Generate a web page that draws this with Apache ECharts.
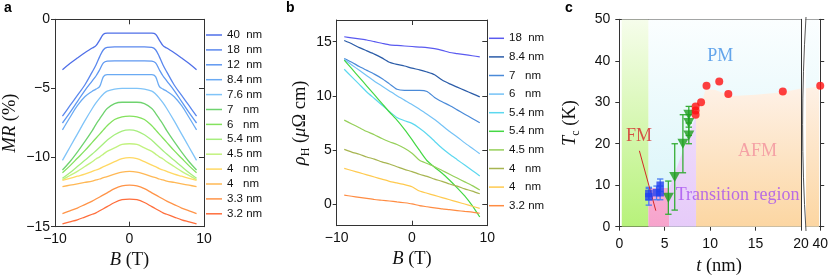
<!DOCTYPE html>
<html><head><meta charset="utf-8">
<script src="https://cdn.jsdelivr.net/npm/echarts@6/dist/echarts.min.js"></script>
<style>html,body{margin:0;padding:0;background:#fff}#c{width:831px;height:276px}</style>
</head><body><div id="c"></div>
<script>
// ---------- Panel a : MR vs B ----------
const aB = [-9,-8,-7,-6,-5,-4.5,-4,-3.5,-3,-2,-1,0,1,2,3,3.5,4,4.5,5,6,7,8,9];
const aLabels = ['40  nm','18  nm','12  nm','8.4 nm','7.6 nm','7   nm','6   nm','5.4 nm','4.5 nm','4   nm','4   nm','3.3 nm','3.2 nm'];
const mr40 = [-3.65,-3.2,-2.8,-2.42,-2.08,-1.9,-1.5,-1.08,-1.0,-1.0,-1.0,-1.0,-1.0,-1.0,-1.0,-1.08,-1.5,-1.9,-2.08,-2.42,-2.8,-3.2,-3.65];
const mr18 = [-7.0,-6.25,-5.5,-4.75,-3.8,-3.3,-2.7,-2.2,-2.03,-2.0,-2.0,-2.0,-2.0,-2.0,-2.03,-2.2,-2.7,-3.3,-3.8,-4.75,-5.5,-6.25,-7.0];
const mr12 = [-7.5,-6.75,-5.95,-5.15,-4.45,-4.1,-3.65,-3.15,-3.02,-3.0,-3.0,-3.0,-3.0,-3.0,-3.02,-3.15,-3.65,-4.1,-4.45,-5.15,-5.95,-6.75,-7.5];
const mr84 = [-8.0,-7.1,-6.25,-5.6,-5.2,-5.05,-4.85,-4.15,-4.0,-4.0,-4.0,-4.0,-4.0,-4.0,-4.0,-4.15,-4.85,-5.05,-5.2,-5.6,-6.25,-7.1,-8.0];
const mr76 = [-10.2,-9.25,-8.3,-7.35,-6.45,-6.05,-5.7,-5.4,-5.2,-5.05,-5.0,-5.0,-5.0,-5.05,-5.2,-5.4,-5.7,-6.05,-6.45,-7.35,-8.3,-9.25,-10.2];
const mr7  = [-10.9,-10.3,-9.6,-8.85,-8.05,-7.6,-7.2,-6.8,-6.45,-6.1,-6.0,-6.0,-6.0,-6.1,-6.45,-6.8,-7.2,-7.6,-8.05,-8.85,-9.6,-10.3,-10.9];
const mr6  = [-11.1,-10.6,-10.05,-9.5,-8.9,-8.6,-8.3,-8.0,-7.7,-7.25,-7.05,-7.0,-7.05,-7.25,-7.7,-8.0,-8.3,-8.6,-8.9,-9.5,-10.05,-10.6,-11.1];
const mr54 = [-11.5,-11.1,-10.65,-10.2,-9.75,-9.5,-9.25,-9.0,-8.75,-8.35,-8.08,-8.0,-8.08,-8.35,-8.75,-9.0,-9.25,-9.5,-9.75,-10.2,-10.65,-11.1,-11.5];
const mr45 = [-11.6,-11.3,-11.0,-10.65,-10.3,-10.1,-9.95,-9.75,-9.55,-9.3,-9.05,-9.0,-9.05,-9.3,-9.55,-9.75,-9.95,-10.1,-10.3,-10.65,-11.0,-11.3,-11.6];
const mr4a = [-11.65,-11.5,-11.35,-11.2,-11.0,-10.9,-10.8,-10.65,-10.55,-10.3,-10.08,-10.0,-10.08,-10.3,-10.55,-10.65,-10.8,-10.9,-11.0,-11.2,-11.35,-11.5,-11.65];
const mr4b = [-12.1,-12.0,-11.9,-11.8,-11.7,-11.62,-11.55,-11.45,-11.38,-11.2,-11.05,-11.0,-11.05,-11.2,-11.38,-11.45,-11.55,-11.62,-11.7,-11.8,-11.9,-12.0,-12.1];
const mr33 = [-14.05,-13.85,-13.65,-13.4,-13.15,-13.0,-12.85,-12.7,-12.55,-12.25,-12.05,-12.0,-12.05,-12.25,-12.55,-12.7,-12.85,-13.0,-13.15,-13.4,-13.65,-13.85,-14.05];
const mr32 = [-14.8,-14.65,-14.5,-14.3,-14.1,-14.0,-13.85,-13.7,-13.55,-13.25,-13.05,-13.0,-13.05,-13.25,-13.55,-13.7,-13.85,-14.0,-14.1,-14.3,-14.5,-14.65,-14.8];
const aSeriesVals = [mr40,mr18,mr12,mr84,mr76,mr7,mr6,mr54,mr45,mr4a,mr4b,mr33,mr32];
const aColors = ['#4f6fe8','#5b88ee','#5f98f1','#6aaaf3','#80c4f8','#6fd36f','#84e25e','#a6ee7e','#c2f27f','#ffd863','#ffb855','#ff9448','#ff6e3c'];

// ---------- Panel b : Hall resistivity vs B ----------
const bB = [-9,-8,-7,-6,-5,-4,-3,-2,-1,0,1,2,3,4,5,6,7,8,9];
const bLabels = ['18  nm','8.4 nm','7   nm','6   nm','5.4 nm','5.4 nm','4.5 nm','4   nm','4   nm','3.2 nm'];
const rh18  = [15.45,15.35,15.25,15.15,15.0,14.85,14.7,14.65,14.6,14.55,14.5,14.45,14.35,14.2,14.0,13.9,13.8,13.7,13.6];
const rh84  = [15.1,14.8,14.45,14.15,13.85,13.5,13.1,12.9,12.75,12.55,12.4,12.2,11.95,11.45,11.1,10.8,10.5,10.2,9.9];
const rh7   = [13.45,13.1,12.7,12.35,12.0,11.6,11.1,10.6,10.5,10.5,10.5,10.4,9.85,9.45,9.1,8.7,8.3,7.9,7.5];
const rh6   = [13.35,12.85,12.35,11.85,11.35,10.9,10.45,10.0,9.6,9.2,8.75,8.3,7.8,7.25,6.7,6.2,5.65,5.15,4.65];
const rh54c = [12.45,11.75,11.05,10.35,9.75,9.15,8.55,8.0,7.7,7.45,7.0,6.45,5.8,5.15,4.6,4.1,3.6,3.1,2.6];
const rh54g = [13.3,12.5,11.7,10.9,10.1,9.3,8.5,7.75,6.9,5.95,4.95,4.0,3.4,2.85,2.2,1.5,0.75,-0.15,-1.2];
const rh45  = [7.75,7.4,7.05,6.7,6.4,6.05,5.75,5.5,5.15,4.7,4.05,3.75,3.45,3.1,2.75,2.4,2.05,1.7,1.3];
const rh4a  = [5.05,4.8,4.6,4.35,4.15,3.9,3.7,3.45,3.2,3.0,2.75,2.55,2.3,2.1,1.85,1.65,1.4,1.2,0.95];
const rh4b  = [3.3,3.1,2.9,2.7,2.5,2.3,2.1,1.95,1.8,1.6,1.2,1.0,0.8,0.6,0.4,0.2,0.0,-0.2,-0.4];
const rh32  = [0.82,0.72,0.62,0.52,0.42,0.35,0.28,0.2,0.12,0.02,-0.15,-0.25,-0.35,-0.45,-0.52,-0.6,-0.68,-0.75,-0.85];
const bSeriesVals = [rh18,rh84,rh7,rh6,rh54c,rh54g,rh45,rh4a,rh4b,rh32];
const bColors = ['#5a5af0','#2b5ca8','#4a8ad8','#74c2f6','#5cd8ef','#44d844','#96d05a','#a7b551','#ffca4f','#ff8c42'];
const bTicks = [0,5,10,15];

// ---------- Panel c : phase diagram ----------
const afmT  = [8.4, 8.4, 8.4, 9, 9.6, 11, 12, 18, 40];
const afmTc = [27, 28, 29, 30, 34, 35, 32, 32.6, 34];
const trT   = [5.4, 6.1, 7.0, 7.65, 7.65, 7.65];
const trTc  = [7, 12, 20, 27, 25, 22];
const trLo  = [3, 4, 13, 25, 22, 20];
const trHi  = [11, 20, 27, 29, 27, 24];
const fmT   = [3.25, 3.25, 4.1, 4.5, 4.5];
const fmTc  = [8, 7.2, 8.2, 8.2, 10];
const fmLo  = [6.5, 5.2, 6.5, 6.5, 8.5];
const fmHi  = [9.5, 9.2, 9.8, 9.8, 11.5];
// phase-region boundaries (t, Tc)
const regionPM1   = [[3.2,50],[20,50]];
const regionPM2   = [[38.1,50],[39.85,50]];
const regionThin  = [[0.27,50],[3.2,50]];
const regionFM    = [[3.2,9.3],[5.5,9.3]];
const regionTrans = [[5.5,9.3],[8.45,26.8]];
const regionAFM1  = [[8.45,26.5],[9.0,29.2],[9.5,33.2],[10.5,33],[11.5,32.2],[12.5,31.5],[15,31.8],[18,32.4],[20,33.3]];
const regionAFM2  = [[38.1,33.4],[39.85,33.8]];
const fmPointer   = [[2.21,18.3],[4.02,3.86]];
const phaseNames  = ['PM','AFM','Transition region','FM'];
const phasePos    = [[11.1,41.1],[15.2,18.1],[6.2,7.6],[2.17,21.7]];
const phaseAlign  = ['center','center','left','center'];
const phaseColors = ['#3f8fe6','#f2909c','#a650f0','#d42828'];

const minusFmt = v => v < 0 ? '\u2212' + (-v) : String(v);
const serif = 'Liberation Serif';
const sans = 'Liberation Sans';
const axisLine = {onZero:false, lineStyle:{color:'#333', width:1}};
const lbl = (extra) => Object.assign({color:'#111', fontSize:14, fontFamily:sans, formatter:minusFmt}, extra||{});
const richName = {
  i:{fontStyle:'italic', fontFamily:serif, fontSize:18.5, color:'#111'},
  s:{fontFamily:serif, fontSize:12, color:'#111', verticalAlign:'bottom', lineHeight:24}
};
const nameStyle = {fontFamily:serif, fontSize:18.5, color:'#111', rich:richName};

const series = [];
aSeriesVals.forEach((vals, k) => {
  series.push({name:'a'+k, type:'line', xAxisIndex:0, yAxisIndex:0,
    data:aB.map((b,i)=>[b, vals[i]]), symbol:'none', smooth:0.35,
    color:aColors[k], lineStyle:{width:1.3}});
});
bSeriesVals.forEach((vals, k) => {
  series.push({name:'b'+k, type:'line', xAxisIndex:2, yAxisIndex:2,
    data:bB.map((b,i)=>[b, vals[i]]), symbol:'none', smooth:0.2,
    color:bColors[k], lineStyle:{width:1.2}});
});

function grad(top, bottom){ return {type:'linear', x:0, y:0, x2:0, y2:1, colorStops:[{offset:0,color:top},{offset:1,color:bottom}]}; }
function region(data, xi, yi, fill){
  return {type:'line', xAxisIndex:xi, yAxisIndex:yi, data:data, symbol:'none', silent:true,
    lineStyle:{width:0, opacity:0}, areaStyle:{color:fill, opacity:1}, z:1};
}
series.push(region(regionPM1, 4, 4, grad('#fbfeff','#d6f4f8')));
series.push(region(regionThin, 4, 4, grad('#f6fdeb','#b7f27a')));
series.push(region(regionFM, 4, 4, grad('#f8aed2','#f7a3cc')));
series.push(region(regionTrans, 4, 4, grad('#efdcfb','#e6cbf9')));
series.push(region(regionAFM1, 4, 4, grad('#fef1e6','#fcd6a2')));
series.push(region(regionPM2, 6, 6, grad('#fbfeff','#d6f4f8')));
series.push(region(regionAFM2, 6, 6, grad('#fef1e6','#fcd6a2')));

function errRender(color){
  return function(params, api){
    const x = api.value(0), lo = api.value(1), hi = api.value(2);
    const p1 = api.coord([x, lo]), p2 = api.coord([x, hi]);
    const w = 3.2, st = {stroke:color, lineWidth:1.3};
    return {type:'group', children:[
      {type:'line', shape:{x1:p1[0],y1:p1[1],x2:p2[0],y2:p2[1]}, style:st},
      {type:'line', shape:{x1:p1[0]-w,y1:p1[1],x2:p1[0]+w,y2:p1[1]}, style:st},
      {type:'line', shape:{x1:p2[0]-w,y1:p2[1],x2:p2[0]+w,y2:p2[1]}, style:st}
    ]};
  };
}
series.push({type:'custom', xAxisIndex:4, yAxisIndex:4, renderItem:errRender('#35ad35'),
  encode:{x:0, y:[1,2]}, data:trT.map((t,i)=>[t, trLo[i], trHi[i]]), z:3, silent:true});
series.push({type:'custom', xAxisIndex:4, yAxisIndex:4, renderItem:errRender('#4a7cf2'),
  encode:{x:0, y:[1,2]}, data:fmT.map((t,i)=>[t, fmLo[i], fmHi[i]]), z:3, silent:true});
series.push({type:'line', xAxisIndex:4, yAxisIndex:4, data:fmPointer, symbol:'none',
  color:'#d42828', lineStyle:{width:1}, z:3, silent:true});
series.push({type:'scatter', xAxisIndex:4, yAxisIndex:4, symbol:'triangle', symbolRotate:180, symbolSize:[11,10],
  color:'#1e9e1e', data:trT.map((t,i)=>[t, trTc[i]]), z:4, clip:false});
series.push({type:'scatter', xAxisIndex:4, yAxisIndex:4, symbol:'rect', symbolSize:7.5,
  color:'#1f40f0', data:fmT.map((t,i)=>[t, fmTc[i]]), z:4, clip:false});
series.push({type:'scatter', xAxisIndex:4, yAxisIndex:4, symbol:'circle', symbolSize:8,
  color:'#ff1010', data:afmT.map((t,i)=>[t, afmTc[i]]).filter(p=>p[0]<=20), z:4, clip:false});
series.push({type:'scatter', xAxisIndex:6, yAxisIndex:6, symbol:'circle', symbolSize:8,
  color:'#ff1010', data:afmT.map((t,i)=>[t, afmTc[i]]).filter(p=>p[0]>20), z:4, clip:false});
phaseNames.forEach((nm, k) => {
  series.push({type:'scatter', xAxisIndex:4, yAxisIndex:4, symbolSize:0, silent:true, clip:false,
    data:[phasePos[k]], z:5,
    label:{show:true, position:[0,0], align:phaseAlign[k], verticalAlign:'middle', formatter:nm,
      color:phaseColors[k], fontFamily:serif, fontSize:18}});
});

const legendCommon = {orient:'vertical', icon:'rect', itemHeight:1.5, padding:0, selectedMode:false,
  textStyle:{fontSize:11.5, lineHeight:14, color:'#111', fontFamily:sans}};

const tickIn = {inside:true, length:5, lineStyle:{color:'#333'}};
const tickOut = {inside:false, length:4, lineStyle:{color:'#333'}};

const option = {
  animation:false,
  backgroundColor:'#fff',
  legend:[
    Object.assign({}, legendCommon, {left:206, top:28, itemWidth:16, itemGap:0.9,
      data:aLabels.map((_,k)=>'a'+k), formatter:n=>aLabels[+n.slice(1)]}),
    Object.assign({}, legendCommon, {left:489, top:31.3, itemWidth:15, itemGap:4.6,
      data:bLabels.map((_,k)=>'b'+k), formatter:n=>bLabels[+n.slice(1)]})
  ],
  grid:[
    {left:54, top:19.3, width:150, height:207.4},
    {left:336.7, top:20, width:150.6, height:205.7},
    {left:619.3, top:19.3, width:181.7, height:207.4},
    {left:806, top:19.3, width:17.3, height:207.4}
  ],
  xAxis:[
    {type:'value', gridIndex:0, min:-10, max:10, interval:10, axisLine:axisLine, splitLine:{show:false},
     axisTick:tickIn, axisLabel:lbl({margin:5}),
     name:'{i|B} (T)', nameLocation:'middle', nameGap:22, nameTextStyle:nameStyle},
    {type:'value', gridIndex:0, position:'top', min:-10, max:10, interval:10, axisLine:axisLine, splitLine:{show:false},
     axisTick:tickIn, axisLabel:{show:false}},
    {type:'value', gridIndex:1, min:-10, max:10, interval:10, axisLine:axisLine, splitLine:{show:false},
     axisTick:tickIn, axisLabel:lbl({margin:5}),
     name:'{i|B} (T)', nameLocation:'middle', nameGap:22, nameTextStyle:nameStyle},
    {type:'value', gridIndex:1, position:'top', min:-10, max:10, interval:10, axisLine:axisLine, splitLine:{show:false},
     axisTick:tickIn, axisLabel:{show:false}},
    {type:'value', gridIndex:2, min:0, max:20, interval:5, axisLine:axisLine, splitLine:{show:false},
     axisTick:tickOut, axisLabel:lbl({margin:10})},
    {type:'value', gridIndex:2, position:'top', min:0, max:20, axisLine:axisLine, splitLine:{show:false},
     axisTick:{show:false}, axisLabel:{show:false}},
    {type:'value', gridIndex:3, min:38.1, max:40, axisLine:axisLine, splitLine:{show:false},
     axisTick:Object.assign({customValues:[40]}, tickOut),
     axisLabel:lbl({margin:10, customValues:[40]})},
    {type:'value', gridIndex:3, position:'top', min:38.1, max:40, axisLine:axisLine, splitLine:{show:false},
     axisTick:{show:false}, axisLabel:{show:false}}
  ],
  yAxis:[
    {type:'value', gridIndex:0, min:-15, max:0, interval:5, axisLine:axisLine, splitLine:{show:false},
     axisTick:tickOut, axisLabel:lbl({margin:5}),
     name:'{i|MR} (%)', nameLocation:'middle', nameRotate:90, nameGap:35, nameTextStyle:nameStyle},
    {type:'value', gridIndex:0, position:'right', min:-15, max:0, interval:5, axisLine:axisLine, splitLine:{show:false},
     axisTick:tickIn, axisLabel:{show:false}},
    {type:'value', gridIndex:1, min:-2, max:17, axisLine:axisLine, splitLine:{show:false},
     axisTick:Object.assign({customValues:bTicks}, tickOut),
     axisLabel:lbl({margin:5, customValues:bTicks}),
     name:'{i|ρ}{s|H} ({i|μ}Ω cm)', nameLocation:'middle', nameRotate:90, nameGap:18, nameTextStyle:nameStyle},
    {type:'value', gridIndex:1, position:'right', min:-2, max:17, axisLine:axisLine, splitLine:{show:false},
     axisTick:Object.assign({customValues:bTicks}, tickIn), axisLabel:{show:false}},
    {type:'value', gridIndex:2, min:0, max:50, interval:10, axisLine:axisLine, splitLine:{show:false},
     axisTick:tickOut, axisLabel:lbl({margin:9}),
     name:'{i|T}{s|c} (K)', nameLocation:'middle', nameRotate:90, nameGap:37, nameTextStyle:nameStyle},
    {type:'value', gridIndex:2, position:'right', min:0, max:50, axisLine:axisLine, splitLine:{show:false},
     axisTick:{show:false}, axisLabel:{show:false}},
    {type:'value', gridIndex:3, position:'right', min:0, max:50, interval:10, axisLine:axisLine, splitLine:{show:false},
     axisTick:tickOut, axisLabel:{show:false}}
  ],
  graphic:[
    {type:'text', left:4, top:1, style:{text:'a', font:'bold 14px "Liberation Sans"', fill:'#000'}},
    {type:'text', left:286, top:1, style:{text:'b', font:'bold 14px "Liberation Sans"', fill:'#000'}},
    {type:'text', left:565, top:1, style:{text:'c', font:'bold 14px "Liberation Sans"', fill:'#000'}},
    {type:'text', x:719, y:266, style:{text:'{i|t} (nm)', fontFamily:serif, fontSize:18.5, fill:'#111',
      align:'center', verticalAlign:'middle', rich:{i:{fontStyle:'italic', fontFamily:serif, fontSize:18.5, fill:'#111'}}}},
    {type:'bezierCurve', shape:{x1:806, y1:17, cpx1:801.5, cpy1:90, cpx2:801.5, cpy2:160, x2:806, y2:231},
      style:{stroke:'#555', lineWidth:1, fill:null}, z:10}
  ],
  series:series
};
const chart = echarts.init(document.getElementById('c'), null, {renderer:'canvas'});
chart.setOption(option);
</script></body></html>
